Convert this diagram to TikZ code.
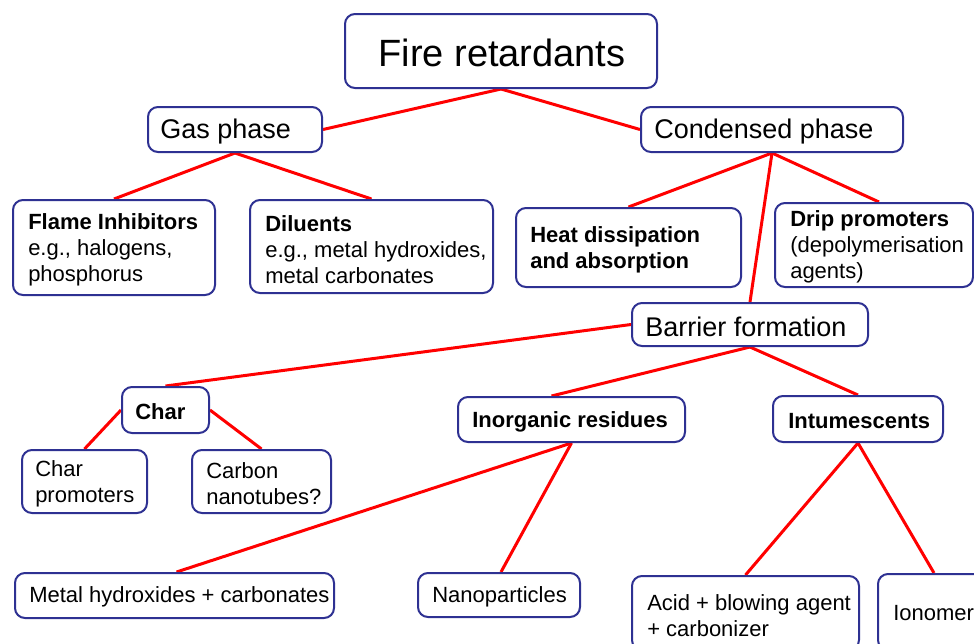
\documentclass[tikz,border=0pt]{standalone}
\usepackage{fontspec}
\setmainfont{Liberation Sans}
\usetikzlibrary{calc}
\pgfdeclarelayer{background}
\pgfsetlayers{background,main}
\definecolor{navy}{RGB}{46,49,146}
\definecolor{linered}{RGB}{255,0,0}
\tikzset{
  bx/.style={draw=navy, line width=1.5pt, rounded corners=7.5pt, fill=white, inner sep=0pt},
  txt/.style={inner sep=0pt, align=left, anchor=west, text=black, font=\fontsize{16.5}{19.5}\selectfont},
  midtxt/.style={txt, font=\fontsize{20.25}{24}\selectfont},
  bigtxt/.style={inner sep=0pt, text=black, font=\fontsize{28.5}{32}\selectfont},
  conn/.style={draw=linered, line width=2.25pt}
}
\begin{document}
\begin{tikzpicture}[x=0.75pt, y=-0.75pt]
\useasboundingbox (0,0) rectangle (974,643);
\clip (0,0) rectangle (974,643);

% boxes
\node[bx, minimum width=234pt, minimum height=55.5pt] (fr) at (501,51) {};
\node[bigtxt] (frt) at (502,53) {Fire retardants};

\node[bx, minimum width=130.5pt, minimum height=33.75pt] (gas) at (235,129.5) {};
\node[midtxt] (gast) at (160,132) {Gas phase};

\node[bx, minimum width=196.5pt, minimum height=33.75pt] (cond) at (772,129.5) {};
\node[midtxt] (condt) at (654,132) {Condensed phase};

\node[bx, minimum width=151.5pt, minimum height=71.25pt] (flame) at (114,247.5) {};
\node[txt] (flamet) at (28,250) {\textbf{Flame Inhibitors}\\e.g., halogens,\\phosphorus};

\node[bx, minimum width=182.25pt, minimum height=69.75pt] (dil) at (371.5,246.5) {};
\node[txt] (dilt) at (265,250) {\textbf{Diluents}\\e.g., metal hydroxides,\\metal carbonates};

\node[bx, minimum width=168.75pt, minimum height=59.25pt] (heat) at (628.5,247.5) {};
\node[txt] (heatt) at (530,250) {\textbf{Heat dissipation}\\\textbf{and absorption}};

\node[bx, minimum width=148.5pt, minimum height=63pt] (drip) at (874,245) {};
\node[txt] (dript) at (790,247) {\textbf{Drip promoters}\\(depolymerisation\\agents)};

\node[bx, minimum width=177pt, minimum height=32.25pt] (barrier) at (750,324.5) {};
\node[midtxt] (barriert) at (645,327) {Barrier formation};

\node[bx, minimum width=65.25pt, minimum height=34.5pt] (char) at (165.5,410) {};
\node[txt] (chart) at (135,412) {\textbf{Char}};

\node[bx, minimum width=93.75pt, minimum height=47.25pt] (charp) at (84.5,481.5) {};
\node[txt] (charpt) at (35,484) {Char\\promoters};

\node[bx, minimum width=104.25pt, minimum height=47.25pt] (cnt) at (261.5,481.5) {};
\node[txt] (cntt) at (206,484) {Carbon\\nanotubes?};

\node[bx, minimum width=170.25pt, minimum height=33.75pt] (inorg) at (571.5,419.5) {};
\node[txt] (inorgt) at (472,422) {\textbf{Inorganic residues}};

\node[bx, minimum width=127.5pt, minimum height=34.5pt] (intu) at (858,419) {};
\node[txt] (intut) at (788,421) {\textbf{Intumescents}};

\node[bx, minimum width=239.25pt, minimum height=33.75pt] (metal) at (174.5,595.5) {};
\node[txt] (metalt) at (29,597) {Metal hydroxides + carbonates};

\node[bx, minimum width=121.5pt, minimum height=33pt] (nano) at (499,595) {};
\node[txt] (nanot) at (432,597) {Nanoparticles};

\node[bx, minimum width=170.25pt, minimum height=55.5pt] (acid) at (745.5,613) {};
\node[txt] (acidt) at (647,616) {Acid + blowing agent\\+ carbonizer};

\node[bx, minimum width=84pt, minimum height=57pt] (iono) at (934,612) {};
\node[txt] (ionot) at (893,613) {Ionomer};

% connectors
\begin{pgfonlayer}{background}
\fill[white] (0,0) rectangle (974,643);
\draw[conn] (fr.south) -- (gas.east);
\draw[conn] (fr.south) -- (cond.west);
\draw[conn] (gas.south) -- (flame.north);
\draw[conn] (gas.south) -- (dil.north);
\draw[conn] (cond.south) -- (heat.north);
\draw[conn] (cond.south) -- ($(drip.north)+(5,0)$);
\draw[conn] (cond.south) -- (barrier.north);
\draw[conn] (barrier.west) -- (char.north);
\draw[conn] (barrier.south) -- ($(inorg.north)+(-20,0)$);
\draw[conn] (barrier.south) -- (intu.north);
\draw[conn] (char.west) -- (charp.north);
\draw[conn] (char.east) -- (cnt.north);
\draw[conn] (inorg.south) -- ($(metal.north)+(2,0)$);
\draw[conn] (inorg.south) -- ($(nano.north)+(2,0)$);
\draw[conn] (intu.south) -- (acid.north);
\draw[conn] (intu.south) -- (iono.north);
\end{pgfonlayer}
\end{tikzpicture}
\end{document}
